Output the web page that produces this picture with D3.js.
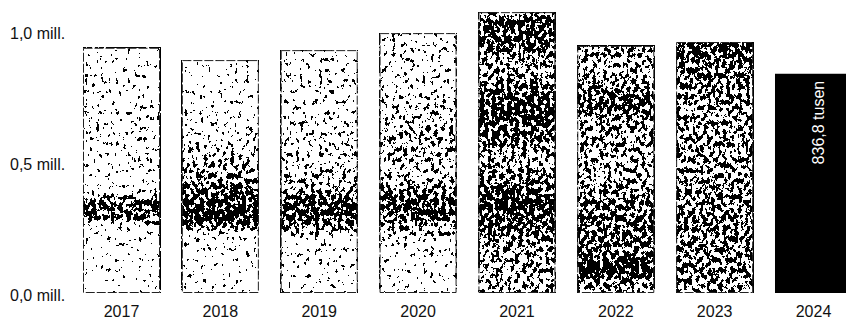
<!DOCTYPE html>
<html>
<head>
<meta charset="utf-8">
<script src="https://cdn.jsdelivr.net/npm/d3@7"></script>
<style>
  html, body { margin: 0; padding: 0; background: #fff; }
  svg { display: block; }
</style>
</head>
<body>
<script>
// Data
const years = ["2017", "2018", "2019", "2020", "2021", "2022", "2023", "2024"];
const values = [0.936, 0.889, 0.927, 0.992, 1.072, 0.943, 0.958, 0.8368]; // millions
const yTicks = [0, 0.5, 1.0];
const yTickLabels = ["0,0 mill.", "0,5 mill.", "1,0 mill."];
const lastLabel = "836,8 tusen";

// Texture shading of the photo-filled bars: [level in millions, grey 0..1]
const barShades = [
    [[0.936, 0.95], [0.8, 0.86], [0.55, 0.86], [0.4, 0.9], [0.34, 0.4], [0.29, 0.42], [0.25, 0.92], [0, 0.96]],
    [[0.889, 0.95], [0.7, 0.9], [0.55, 0.72], [0.45, 0.58], [0.34, 0.3], [0.28, 0.3], [0.22, 0.84], [0, 0.94]],
    [[0.927, 0.86], [0.6, 0.8], [0.4, 0.64], [0.34, 0.34], [0.28, 0.38], [0.2, 0.84], [0, 0.92]],
    [[0.992, 0.84], [0.8, 0.8], [0.6, 0.62], [0.45, 0.7], [0.34, 0.34], [0.28, 0.45], [0.2, 0.84], [0, 0.92]],
    [[1.072, 0.65], [1.04, 0.34], [0.95, 0.42], [0.85, 0.6], [0.72, 0.32], [0.62, 0.4], [0.5, 0.62], [0.36, 0.32], [0.28, 0.4], [0.15, 0.58], [0, 0.64]],
    [[0.943, 0.56], [0.85, 0.62], [0.72, 0.38], [0.65, 0.56], [0.45, 0.62], [0.3, 0.44], [0.15, 0.46], [0.1, 0.24], [0.07, 0.36], [0, 0.66]],
    [[0.958, 0.36], [0.85, 0.46], [0.7, 0.56], [0.5, 0.56], [0.3, 0.5], [0.1, 0.5], [0, 0.6]]
];

const width = 846;
const height = 318;

const x = d3.scaleBand()
    .domain(years)
    .range([83, 852])
    .paddingInner(0.221)
    .paddingOuter(0);

const y = d3.scaleLinear()
    .domain([0, 1])
    .range([293, 31]);

const svg = d3.select("body").append("svg")
    .attr("width", width)
    .attr("height", height)
    .attr("viewBox", [0, 0, width, height]);

const defs = svg.append("defs");

// grainy black/white look of the scanned bars
const f = defs.append("filter")
    .attr("id", "grain")
    .attr("x", 0).attr("y", 0).attr("width", 1).attr("height", 1)
    .attr("color-interpolation-filters", "sRGB");
f.append("feTurbulence")
    .attr("type", "fractalNoise")
    .attr("baseFrequency", "0.26 0.19")
    .attr("numOctaves", 3)
    .attr("seed", 11)
    .attr("result", "noise");
f.append("feColorMatrix")
    .attr("in", "noise")
    .attr("type", "matrix")
    .attr("values", "1 0 0 0 0  1 0 0 0 0  1 0 0 0 0  0 0 0 0 1")
    .attr("result", "gn");
f.append("feComposite")
    .attr("in", "SourceGraphic")
    .attr("in2", "gn")
    .attr("operator", "arithmetic")
    .attr("k1", 0).attr("k2", 1).attr("k3", 2.0).attr("k4", -1.0)
    .attr("result", "mix");
const ct = f.append("feComponentTransfer").attr("in", "mix");
["feFuncR", "feFuncG", "feFuncB"].forEach(fn =>
    ct.append(fn).attr("type", "discrete").attr("tableValues", "0 1"));

barShades.forEach((stops, i) => {
    const top = y(values[i]);
    const bottom = y(0);
    const g = defs.append("linearGradient")
        .attr("id", "shade" + i)
        .attr("gradientUnits", "userSpaceOnUse")
        .attr("x1", 0).attr("x2", 0)
        .attr("y1", top).attr("y2", bottom);
    stops.forEach(([v, grey]) => {
        const c = Math.round(grey * 255);
        g.append("stop")
            .attr("offset", Math.max(0, Math.min(1, (y(v) - top) / (bottom - top))))
            .attr("stop-color", `rgb(${c},${c},${c})`);
    });
});

const data = years.map((yr, i) => ({ year: yr, value: values[i], i }));
const photoBars = data.filter(d => d.i < barShades.length);
const lastBar = data[data.length - 1];

// textured bars
svg.append("g")
    .selectAll("rect")
    .data(photoBars)
    .join("rect")
    .attr("x", d => x(d.year))
    .attr("y", d => y(d.value))
    .attr("width", x.bandwidth())
    .attr("height", d => y(0) - y(d.value))
    .attr("fill", d => `url(#shade${d.i})`)
    .attr("filter", "url(#grain)");

// thin frame around them
svg.append("g")
    .selectAll("rect")
    .data(photoBars)
    .join("rect")
    .attr("x", d => x(d.year) + 0.5)
    .attr("y", d => y(d.value) + 0.5)
    .attr("width", x.bandwidth() - 1)
    .attr("height", d => y(0) - y(d.value) - 1)
    .attr("fill", "none")
    .attr("stroke", "#222")
    .attr("stroke-width", 1)
    .attr("stroke-dasharray", "9 2");

// 2024 solid bar
svg.append("rect")
    .attr("x", x(lastBar.year))
    .attr("y", y(lastBar.value))
    .attr("width", x.bandwidth())
    .attr("height", y(0) - y(lastBar.value))
    .attr("fill", "#000");

const lx = x(lastBar.year) + x.bandwidth() / 2 + 5;
const ly = y(lastBar.value) + 7;
svg.append("text")
    .attr("transform", `translate(${lx},${ly}) rotate(-90)`)
    .attr("text-anchor", "end")
    .attr("dominant-baseline", "central")
    .attr("fill", "#fff")
    .style("font-family", "'Liberation Sans', Arial, sans-serif")
    .style("font-size", "16px")
    .text(lastLabel);

// y labels
svg.append("g")
    .selectAll("text")
    .data(yTicks)
    .join("text")
    .attr("x", 10)
    .attr("y", d => y(d) + 2)
    .attr("dominant-baseline", "central")
    .attr("fill", "#111")
    .style("font-family", "'Liberation Sans', Arial, sans-serif")
    .style("font-size", "16px")
    .text((d, i) => yTickLabels[i]);

// x axis labels
const xAxis = d3.axisBottom(x).tickSize(0).tickPadding(0);
svg.append("g")
    .attr("transform", `translate(0,${y(0)})`)
    .call(xAxis)
    .call(g => g.select(".domain").remove())
    .call(g => g.selectAll("text")
        .attr("y", 0)
        .attr("dy", "23.5px")
        .attr("fill", "#111")
        .style("font-family", "'Liberation Sans', Arial, sans-serif")
        .style("font-size", "16px"));
</script>
</body>
</html>
